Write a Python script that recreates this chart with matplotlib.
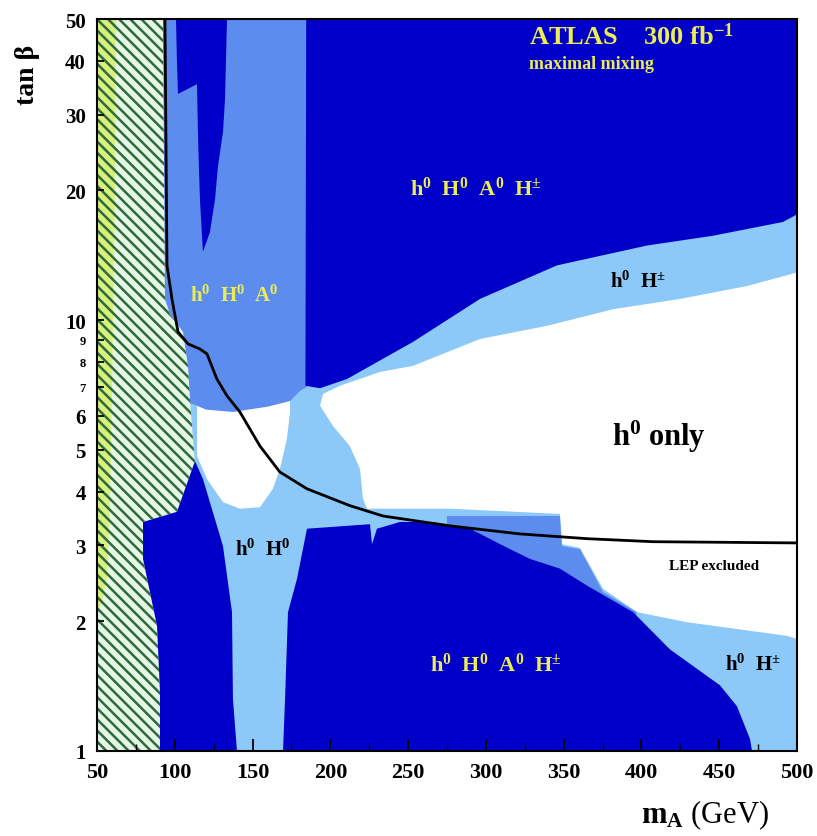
import matplotlib
matplotlib.use("Agg")
import matplotlib.pyplot as plt
from matplotlib.patches import Polygon
from matplotlib.ticker import FixedLocator, NullLocator, MultipleLocator

plt.rcParams['font.family'] = ['Liberation Serif', 'DejaVu Serif']
plt.rcParams['mathtext.fontset'] = 'custom'
plt.rcParams['mathtext.rm'] = 'Liberation Serif'
plt.rcParams['mathtext.bf'] = 'Liberation Serif:bold'
plt.rcParams['mathtext.it'] = 'Liberation Serif:italic'
plt.rcParams['mathtext.default'] = 'regular'
plt.rcParams['hatch.linewidth'] = 1.8

# ---------------- axes ----------------
x_limits = [50, 500]
y_limits = [1, 50]
x_ticks = [50, 100, 150, 200, 250, 300, 350, 400, 450, 500]
y_ticks = [1, 2, 3, 4, 5, 6, 7, 8, 9, 10, 20, 30, 40, 50]
y_tick_labels = ['1', '2', '3', '4', '5', '6', '7', '8', '9', '10', '20', '30', '40', '50']

# ---------------- region boundaries (mA [GeV], tan beta) ----------------
# h0 only (white)
white_main_mA = [195.3, 206.2, 231.9, 253.1, 296.2, 339.3, 381.7, 424.8, 467.9, 500.0,
                 500.0, 493.6, 429.3, 397.1, 375.3, 360.5, 348.9, 347.6, 276.9, 223.6,
                 221.0, 219.1, 212.6, 201.7, 193.4]
white_main_tanb = [6.74, 7.04, 7.58, 7.83, 9.04, 9.70, 10.6, 11.2, 12.0, 12.9,
                   1.82, 1.85, 1.99, 2.10, 2.38, 2.96, 3.02, 3.55, 3.65, 3.65,
                   3.85, 4.51, 5.10, 5.68, 6.33]
white_pocket_mA = [114.3, 114.3, 120.7, 131.0, 141.9, 154.8, 163.1, 167.6, 172.1, 174.1, 174.1]
white_pocket_tanb = [6.39, 4.84, 4.28, 3.78, 3.65, 3.68, 4.06, 4.51, 5.30, 6.12, 6.56]

# h0 H0 A0 (medium blue)
medium_upper_mA = [92.0, 185.6, 185.0, 180.5, 174.1, 160.0, 137.4, 120.0, 111.7, 92.0]
medium_upper_tanb = [50.0, 50.0, 7.0, 6.85, 6.49, 6.30, 6.12, 6.20, 6.39, 6.39]
medium_lower_mA = [275.0, 347.6, 348.9, 360.5, 375.3, 397.1, 395.0, 300.0, 275.0]
medium_lower_tanb = [3.51, 3.51, 2.99, 2.94, 2.34, 2.10, 1.95, 2.60, 3.20]

# h0 H0 A0 H+- (dark blue)
dark_finger_mA = [100.8, 133.6, 132.3, 131.0, 127.8, 125.9, 122.6, 118.1, 116.2, 115.5,
                  114.9, 114.3, 102.1, 101.4]
dark_finger_tanb = [50.0, 50.0, 32.6, 27.3, 22.8, 19.1, 16.0, 14.4, 19.1, 22.8,
                    27.3, 35.3, 33.5, 40.0]
dark_upper_mA = [184.5, 500.0, 500.0, 491.0, 446.0, 403.6, 345.7, 296.2, 253.1, 210.7, 193.4, 184.0]
dark_upper_tanb = [50.0, 50.0, 17.6, 16.9, 15.7, 14.9, 13.4, 11.2, 8.90, 7.30, 6.95, 7.04]
dark_lowleft_mA = [113.0, 118.1, 131.0, 136.8, 137.4, 140.0, 79.0, 79.0]
dark_lowleft_tanb = [4.71, 4.28, 2.99, 2.10, 1.32, 1.0, 1.0, 4.71]
dark_lowright_mA = [185.0, 225.5, 226.8, 230.0, 244.8, 266.0, 289.8, 309.1, 328.4, 347.6,
                    365.0, 394.6, 418.4, 450.5, 461.4, 469.8, 471.1, 169.6, 170.9, 172.8, 178.6]
dark_lowright_tanb = [3.28, 3.36, 3.02, 3.28, 3.40, 3.40, 3.28, 3.02, 2.79, 2.65,
                      2.42, 2.10, 1.72, 1.42, 1.27, 1.066, 1.0, 1.0, 1.32, 2.10, 2.51]

# theoretically excluded (hatched) and yellow strip
hatch_mA = [50.0, 92.4, 93.7, 97.0, 105.3, 108.5, 109.8, 111.7, 113.0, 101.4, 79.6, 79.6,
            88.6, 90.5, 90.5, 50.0]
hatch_tanb = [50.0, 50.0, 11.2, 10.3, 9.39, 7.83, 6.56, 5.30, 4.71, 3.59, 3.40, 2.79,
              1.95, 1.37, 1.0, 1.0]
yellow_mA = [50.0, 62.2, 61.5, 60.0, 58.4, 56.4, 53.0, 50.0]
yellow_tanb = [50.0, 50.0, 20.0, 8.0, 3.85, 2.51, 2.20, 2.10]

# LEP exclusion curve
lep_mA = [93.7, 95.0, 98.2, 102.1, 108.5, 116.2, 120.7, 127.1, 133.6, 141.9, 154.8,
          167.6, 185.0, 212.6, 233.9, 276.9, 321.9, 365.0, 407.4, 500.0]
lep_tanb = [50.0, 13.4, 11.2, 9.39, 8.81, 8.57, 8.35, 7.30, 6.67, 6.12, 5.10,
            4.44, 4.06, 3.71, 3.51, 3.33, 3.19, 3.11, 3.06, 3.04]

DARK = '#0000c8'
MED = '#5b8cee'
LIGHT = '#8cc8f8'
YEL = '#ecec55'
YEL_STRIP = '#d9f07c'

fig = plt.figure(figsize=(8.17, 8.37), dpi=100)
ax = fig.add_axes([0.1187, 0.1016, 0.8568, 0.8745])
ax.set_yscale('log')
ax.set_xlim(*x_limits)
ax.set_ylim(*y_limits)
ax.set_facecolor(LIGHT)


def poly(xs, ys, **kw):
    p = Polygon(list(zip(xs, ys)), closed=True, **kw)
    ax.add_patch(p)
    return p


poly(white_main_mA, white_main_tanb, facecolor='white', edgecolor='none', zorder=1)
poly(white_pocket_mA, white_pocket_tanb, facecolor='white', edgecolor='none', zorder=1)
poly(medium_upper_mA, medium_upper_tanb, facecolor=MED, edgecolor='none', zorder=2)
poly(medium_lower_mA, medium_lower_tanb, facecolor=MED, edgecolor='none', zorder=2)
for xs, ys in [(dark_finger_mA, dark_finger_tanb), (dark_upper_mA, dark_upper_tanb),
               (dark_lowleft_mA, dark_lowleft_tanb), (dark_lowright_mA, dark_lowright_tanb)]:
    poly(xs, ys, facecolor=DARK, edgecolor='none', zorder=3)
poly(hatch_mA, hatch_tanb, facecolor='#e6f7e6', edgecolor='none', zorder=4)
poly(yellow_mA, yellow_tanb, facecolor=YEL_STRIP, edgecolor='none', zorder=5)
poly(hatch_mA, hatch_tanb, facecolor='none', edgecolor='#2d6a3c', linewidth=0,
     hatch='\\\\\\', zorder=6)

ax.plot(lep_mA, lep_tanb, color='black', lw=2.0, zorder=7)

# ---------------- labels ----------------
tkw = dict(fontweight='bold', va='center', ha='left', zorder=9)
ax.text(328, 45.7, r'ATLAS    300 fb$^{-1}$', color=YEL, fontsize=19, **tkw)
ax.text(328, 39.5, 'maximal mixing', color=YEL, fontsize=13, **tkw)
ax.text(251, 20.2, r'h$^0$  H$^0$  A$^0$  H$^{\pm}$', color=YEL, fontsize=16, **tkw)
ax.text(110, 11.4, r'h$^0$  H$^0$  A$^0$', color=YEL, fontsize=15, **tkw)
ax.text(380, 12.3, r'h$^0$  H$^{\pm}$', color='black', fontsize=15, **tkw)
ax.text(381, 5.39, r'h$^0$ only', color='black', fontsize=22, **tkw)
ax.text(138.7, 2.94, r'h$^0$  H$^0$', color='black', fontsize=15, **tkw)
ax.text(418, 2.69, 'LEP excluded', color='black', fontsize=11, **tkw)
ax.text(264, 1.59, r'h$^0$  H$^0$  A$^0$  H$^{\pm}$', color=YEL, fontsize=16, **tkw)
ax.text(453.7, 1.59, r'h$^0$  H$^{\pm}$', color='black', fontsize=15, **tkw)

# ---------------- ticks ----------------
ax.xaxis.set_major_locator(FixedLocator(x_ticks))
ax.xaxis.set_minor_locator(MultipleLocator(25))
ax.set_xticklabels([str(v) for v in x_ticks])
ax.yaxis.set_major_locator(FixedLocator(y_ticks))
ax.yaxis.set_minor_locator(NullLocator())
ax.set_yticklabels(y_tick_labels)
ax.tick_params(axis='x', which='major', direction='in', length=9, width=1.3, pad=8,
               labelsize=16)
ax.tick_params(axis='x', which='minor', direction='in', length=5, width=1.0)
ax.tick_params(axis='y', which='major', direction='in', length=5, width=1.3, pad=8,
               labelsize=15)
for lab in ax.get_xticklabels() + ax.get_yticklabels():
    lab.set_fontweight('bold')
for lab, v in zip(ax.get_yticklabels(), y_ticks):
    if v in (7, 8, 9):
        lab.set_fontsize(9)
ax.xaxis.set_zorder(10)
ax.yaxis.set_zorder(10)
for s in ax.spines.values():
    s.set_linewidth(1.5)
    s.set_zorder(10)

fig.text(0.034, 0.910, 'tan β', rotation=90, fontsize=20, fontweight='bold',
         ha='center', va='center')
fig.text(0.863, 0.026, r'$\mathbf{m}_{\mathbf{A}}$ (GeV)', fontsize=22, ha='center',
         va='center')

fig.savefig('out.png', dpi=100)
